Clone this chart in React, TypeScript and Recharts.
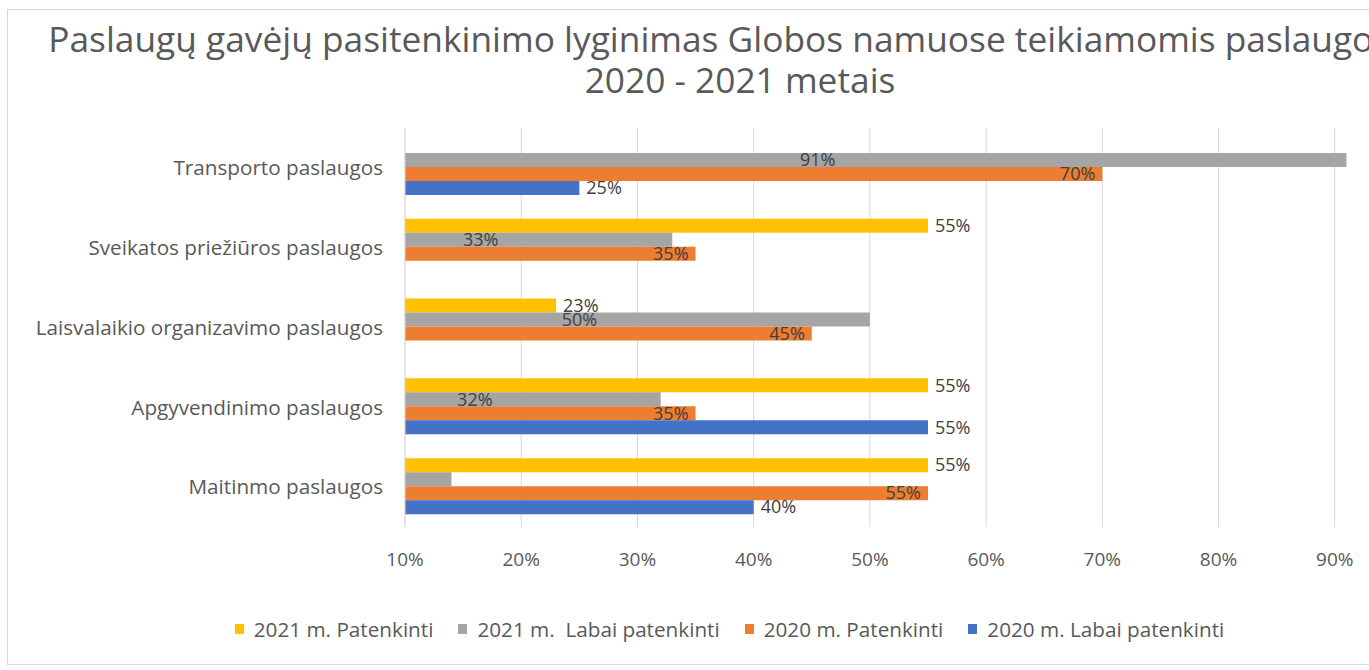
import React from 'react';
import { BarChart, Bar, XAxis, YAxis, CartesianGrid, Legend, LabelList } from 'recharts';

const categories = [
  'Transporto paslaugos',
  'Sveikatos priežiūros paslaugos',
  'Laisvalaikio organizavimo paslaugos',
  'Apgyvendinimo paslaugos',
  'Maitinmo paslaugos',
];
const patenkinti2021: (number | null)[] = [null, 55, 23, 55, 55];
const labaiPatenkinti2021: (number | null)[] = [91, 33, 50, 32, 14];
const patenkinti2020: (number | null)[] = [70, 35, 45, 35, 55];
const labaiPatenkinti2020: (number | null)[] = [25, null, null, 55, 40];
const grayLabelShown = [true, true, true, true, false];
const xTicks = [10, 20, 30, 40, 50, 60, 70, 80, 90];

const seriesNames = [
  '2021 m. Patenkinti',
  '2021 m.  Labai patenkinti',
  '2020 m. Patenkinti',
  '2020 m. Labai patenkinti',
];
const colors = ['#FFC000', '#A5A5A5', '#ED7D31', '#4472C4'];

const data = categories.map((c, i) => ({
  name: c,
  s0: patenkinti2021[i],
  s1: labaiPatenkinti2021[i],
  s2: patenkinti2020[i],
  s3: labaiPatenkinti2020[i],
  s1label: grayLabelShown[i] ? labaiPatenkinti2021[i] : null,
}));

const FONT = "'Open Sans', 'Noto Sans', sans-serif";
const TEXT = '#595959';
const LABEL = '#404040';
const LABEL_SIZE = 18;

const fmt = (v: any) => (v === null || v === undefined ? '' : `${v}%`);

const OutsideLabel = (props: any) => {
  const { x, y, width, height, value } = props;
  if (value === null || value === undefined) return null;
  return (
    <text x={x + width + 7} y={y + height / 2} dy="0.35em" textAnchor="start" fill={LABEL} fontSize={LABEL_SIZE} fontFamily={FONT}>
      {fmt(value)}
    </text>
  );
};
const InsideEndLabel = (props: any) => {
  const { x, y, width, height, value } = props;
  if (value === null || value === undefined) return null;
  return (
    <text x={x + width - 7} y={y + height / 2} dy="0.35em" textAnchor="end" fill={LABEL} fontSize={LABEL_SIZE} fontFamily={FONT}>
      {fmt(value)}
    </text>
  );
};
const GrayLabel = (props: any) => {
  const { x, y, width, height, value } = props;
  if (value === null || value === undefined) return null;
  return (
    <text x={x + width / 2 - 58} y={y + height / 2} dy="0.35em" textAnchor="middle" fill={LABEL} fontSize={LABEL_SIZE} fontFamily={FONT}>
      {fmt(value)}
    </text>
  );
};

const LegendContent = () => (
  <div style={{ display: 'flex', justifyContent: 'center', alignItems: 'center', fontFamily: FONT, fontSize: 20.7, color: TEXT, lineHeight: '24px', whiteSpace: 'pre' }}>
    {seriesNames.map((n, i) => (
      <span key={n} style={{ display: 'inline-flex', alignItems: 'center', marginRight: i < 3 ? 25 : 0 }}>
        <span style={{ display: 'inline-block', width: 9, height: 10, background: colors[i], marginRight: 10 }} />
        <span>{n}</span>
      </span>
    ))}
  </div>
);

export default function App() {
  return (
    <div style={{ position: 'fixed', left: 0, top: 0, width: 1369, height: 670, overflow: 'hidden', background: '#fff' }}>
      <div style={{ position: 'absolute', left: 7, top: 9, width: 1466, height: 656, border: '1px solid #d9d9d9', boxSizing: 'border-box', background: '#fff' }}>
        <div style={{ position: 'absolute', left: 0, top: 8, width: '100%', textAlign: 'center', fontFamily: FONT, fontSize: 35.3, lineHeight: '41px', color: TEXT, whiteSpace: 'nowrap' }}>
          <div>Paslaugų gavėjų pasitenkinimo lyginimas Globos namuose teikiamomis paslaugomis</div>
          <div>2020 - 2021 metais</div>
        </div>
        <div style={{ position: 'absolute', left: 0, top: 0 }}>
          <BarChart
            width={1464}
            height={654}
            data={data}
            layout="vertical"
            margin={{ top: 118, right: 21, bottom: 73, left: 0 }}
            barCategoryGap="13.75%"
            barGap={0}
          >
            <CartesianGrid horizontal={false} stroke="#d9d9d9" />
            <XAxis
              type="number"
              domain={[10, 100]}
              ticks={xTicks}
              tickFormatter={fmt}
              axisLine={false}
              tickLine={false}
              tickSize={0}
              tickMargin={26}
              height={40}
              tick={{ fill: TEXT, fontSize: 19, fontFamily: FONT }}
              allowDataOverflow
            />
            <YAxis
              type="category"
              dataKey="name"
              width={397}
              axisLine={{ stroke: '#d9d9d9' }}
              tickLine={false}
              tickSize={0}
              tickMargin={22}
              tick={{ fill: TEXT, fontSize: 20.7, fontFamily: FONT }}
              interval={0}
            />
            <Legend verticalAlign="bottom" content={<LegendContent />} wrapperStyle={{ bottom: 23 }} />
            <Bar dataKey="s0" name={seriesNames[0]} fill={colors[0]} isAnimationActive={false}>
              <LabelList dataKey="s0" content={<OutsideLabel />} />
            </Bar>
            <Bar dataKey="s1" name={seriesNames[1]} fill={colors[1]} isAnimationActive={false}>
              <LabelList dataKey="s1label" content={<GrayLabel />} />
            </Bar>
            <Bar dataKey="s2" name={seriesNames[2]} fill={colors[2]} isAnimationActive={false}>
              <LabelList dataKey="s2" content={<InsideEndLabel />} />
            </Bar>
            <Bar dataKey="s3" name={seriesNames[3]} fill={colors[3]} isAnimationActive={false}>
              <LabelList dataKey="s3" content={<OutsideLabel />} />
            </Bar>
          </BarChart>
        </div>
      </div>
    </div>
  );
}
